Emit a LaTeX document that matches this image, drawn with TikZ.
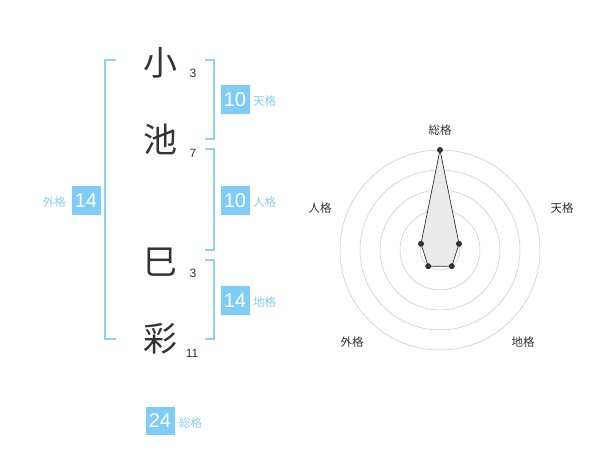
\documentclass[tikz,border=0pt]{standalone}
\usepackage{fontspec}
\newfontfamily\cjk{Noto Sans CJK JP}
\newfontfamily\num{Liberation Sans}
\definecolor{boxblue}{HTML}{80CCF8}
\definecolor{brblue}{HTML}{8ED2F7}
\definecolor{lblblue}{HTML}{86CEF5}
\definecolor{dark}{HTML}{333333}
\begin{document}
\begin{tikzpicture}[x=1pt,y=-1pt,
  bigch/.style={font=\cjk\fontsize{34}{34}\selectfont, text=dark, inner sep=0},
  strk/.style={font=\num\fontsize{12}{12}\selectfont, text=dark, inner sep=0},
  valbox/.style={fill=boxblue, minimum width=29, minimum height=29, inner sep=0, text=white, font=\num\fontsize{20}{20}\selectfont},
  kaku/.style={font=\cjk\fontsize{11.5}{11.5}\selectfont, text=lblblue, inner sep=0},
  bracket/.style={draw=brblue, line width=1.6},
  rlabel/.style={font=\cjk\fontsize{11.5}{11.5}\selectfont, text=dark, inner sep=0},
  ring/.style={draw=black!22, line width=0.5},
  pt/.style={circle, fill=dark, minimum size=6, inner sep=0}]
\useasboundingbox (0,0) rectangle (600,470);
% characters
\node[bigch] (c1) at (160,63) {小};
\node[bigch] (c2) at (160,139) {池};
\node[bigch] (c3) at (160,262) {巳};
\node[bigch] (c4) at (160,339) {彩};
\node[strk] (s1) at (193,73) {3};
\node[strk] (s2) at (193,153) {7};
\node[strk] (s3) at (193,273) {3};
\node[strk] (s4) at (192,353) {11};
% brackets
\draw[bracket] (116,60) -- (105,60) -- (105,339) -- (116,339);
\draw[bracket] (205,60) -- (214,60) -- (214,139) -- (205,139);
\draw[bracket] (205,149) -- (214,149) -- (214,250) -- (205,250);
\draw[bracket] (205,260) -- (214,260) -- (214,339) -- (205,339);
% values
\node[valbox] (ten) at (235,100) {10};
\node[kaku, anchor=west] (tenl) at (253,101) {天格};
\node[valbox] (jin) at (235,201) {10};
\node[kaku, anchor=west] (jinl) at (253,202) {人格};
\node[valbox] (chi) at (235,301) {14};
\node[kaku, anchor=west] (chil) at (253,302) {地格};
\node[valbox] (gai) at (86,201) {14};
\node[kaku, anchor=east] (gail) at (66,202) {外格};
\node[valbox, minimum height=28] (sou) at (160,421) {24};
\node[kaku, anchor=west] (soul) at (179,423) {総格};
% radar
\coordinate (O) at (440,250);
\foreach \r in {20,40,60,80,100} \draw[ring] (O) circle[radius=\r];
\node[circle, fill=black!20, minimum size=6, inner sep=0] (ctr) at (O) {};
\path (440,250) ++(0,-100) coordinate (pS);
\path (440,250) ++(19,-6.2) coordinate (pT);
\path (440,250) ++(11.8,16.2) coordinate (pC);
\path (440,250) ++(-11.8,16.2) coordinate (pG);
\path (440,250) ++(-19,-6.2) coordinate (pJ);
\draw[fill=black!8, draw=dark, line width=0.7] (pS) -- (pT) -- (pC) -- (pG) -- (pJ) -- cycle;
\foreach \p in {pS,pT,pC,pG,pJ} \node[pt] at (\p) {};
\node[rlabel] (rS) at (440,130) {総格};
\node[rlabel] (rT) at (562,208) {天格};
\node[rlabel] (rJ) at (320,208) {人格};
\node[rlabel] (rG) at (352,342) {外格};
\node[rlabel] (rC) at (523,342) {地格};
\end{tikzpicture}
\end{document}
